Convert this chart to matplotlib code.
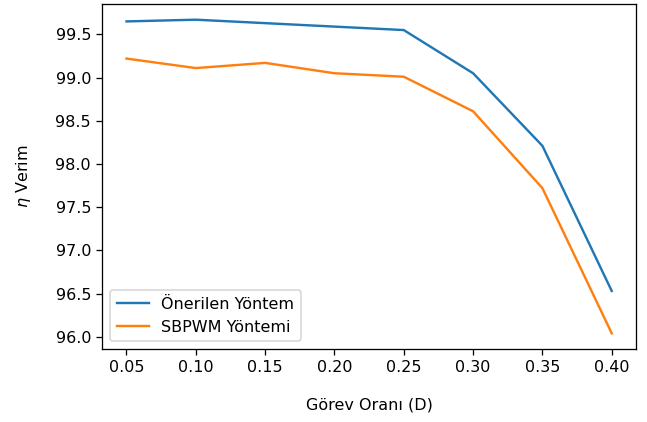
import matplotlib
matplotlib.use("Agg")
import matplotlib.pyplot as plt

duty = [0.05, 0.10, 0.15, 0.20, 0.25, 0.30, 0.35, 0.40]
proposed = [99.65, 99.67, 99.63, 99.59, 99.55, 99.05, 98.21, 96.53]
sbpwm = [99.22, 99.11, 99.17, 99.05, 99.01, 98.61, 97.72, 96.04]
labels = ["Önerilen Yöntem", "SBPWM Yöntemi"]

DPI = 115
fig = plt.figure(figsize=(647 / DPI, 422 / DPI), dpi=DPI)
ax = fig.add_axes([0.158, 0.173, 0.825, 0.8175])
ax.plot(duty, proposed, color="#1f77b4", label=labels[0])
ax.plot(duty, sbpwm, color="#ff7f0e", label=labels[1])
ax.set_xticks(duty)
ax.set_xticklabels([f"{d:.2f}" for d in duty])
ax.set_xlabel("Görev Oranı (D)", labelpad=14)
ax.set_ylabel(r"$\eta$ Verim", labelpad=14)
ax.legend(loc="lower left")
fig.savefig("out.png", dpi=DPI)
